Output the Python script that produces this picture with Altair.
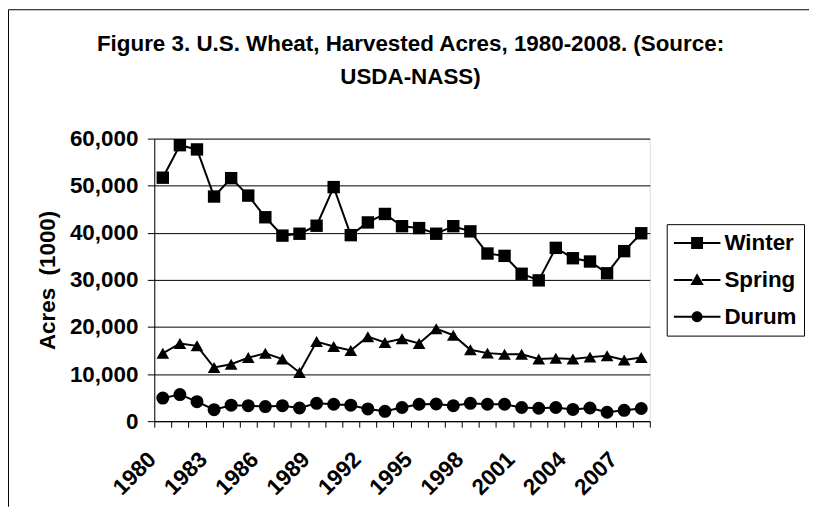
import altair as alt
import pandas as pd

# ---------------- data ----------------
years = list(range(1980, 2009))
winter = [51700, 58600, 57700, 47700, 51600, 47900, 43300, 39400, 39800, 41500,
          49700, 39500, 42200, 44000, 41400, 41000, 39800, 41400, 40300, 35600,
          35100, 31300, 29900, 36800, 34600, 33900, 31400, 36100, 39900]
spring = [14400, 16500, 16000, 11400, 12100, 13500, 14400, 13200, 10350, 16900,
          15850, 15000, 17950, 16700, 17500, 16500, 19650, 18250, 15150, 14450,
          14200, 14200, 13200, 13350, 13200, 13600, 13900, 13000, 13500]
durum = [4900, 5650, 4150, 2450, 3400, 3300, 3100, 3300, 2800, 3800,
         3600, 3400, 2600, 2100, 2900, 3600, 3650, 3300, 3800, 3600,
         3600, 2900, 2750, 2900, 2500, 2800, 1900, 2300, 2700]
series_names = ["Winter", "Spring", "Durum"]
title_lines = ["Figure 3. U.S. Wheat, Harvested Acres, 1980-2008. (Source:", "USDA-NASS)"]
y_title = "Acres\u00a0 (1000)"
y_ticks = [0, 10000, 20000, 30000, 40000, 50000, 60000]

rows = []
for name, vals in zip(series_names, [winter, spring, durum]):
    for yr, v in zip(years, vals):
        rows.append({"year": yr, "acres": v, "series": name})
df = pd.DataFrame(rows)

FONT = "Liberation Sans"
FS = 22.5
W, H = 498, 284
PL, PT, PR, PB = 147, 130, 160, 86

x_enc = alt.X(
    "year:O",
    scale=alt.Scale(type="band", paddingInner=0, paddingOuter=0),
    axis=alt.Axis(
        title=None, labelAngle=-45, labelAlign="right", labelBaseline="middle",
        labelFont=FONT, labelFontSize=FS, labelFontWeight="bold", labelColor="black",
        labelExpr="(datum.value - 1980) % 3 == 0 ? datum.label : ''",
        tickBand="extent", ticks=True, tickSize=6, tickColor="black", tickWidth=1,
        domainColor="black", domainWidth=1, grid=False,
        labelPadding=28.5, labelOffset=-11, labelOverlap=False, labelBound=False,
        labelFlush=False,
    ),
)
y_enc = alt.Y(
    "acres:Q",
    scale=alt.Scale(domain=[0, 60000], nice=False),
    axis=alt.Axis(
        title=y_title, values=y_ticks, format=",.0f",
        grid=True, gridColor="black", gridWidth=1,
        domainColor="black", domainWidth=1, tickColor="black", tickSize=7,
        labelPadding=9.5, labelFont=FONT, labelFontSize=FS, labelFontWeight="bold",
        labelColor="black", titleFont=FONT, titleFontSize=FS, titleFontWeight="bold",
        titleColor="black", titlePadding=10, labelOverlap=False,
    ),
)

# legend symbols: a short line (two thin filled bars) with the series marker between
def with_bars(gap, marker):
    return (f"M-1,-0.043H-{gap}V0.043H-1Z"
            f"M{gap},-0.043H1V0.043H{gap}Z" + marker)

sq = with_bars(0.25, "M-0.255,-0.255H0.255V0.255H-0.255Z")
tri = with_bars(0.2, "M0,-0.28L0.29,0.22L-0.29,0.22Z")
circ = with_bars(0.22, "M-0.234,0A0.234,0.234 0 1,1 0.234,0A0.234,0.234 0 1,1 -0.234,0Z")

legend = alt.Legend(
    orient="none", legendX=515, legendY=86, title=None,
    strokeColor="black", fillColor="white", padding=7, cornerRadius=0,
    symbolSize=2209, clipHeight=24, rowPadding=13, labelOffset=4,
    labelFont=FONT, labelFontSize=FS, labelFontWeight="bold", labelColor="black",
    labelLimit=300, symbolFillColor="black", symbolStrokeWidth=0, symbolOpacity=1,
)

lines = alt.Chart(df).mark_line(color="black", strokeWidth=2).encode(
    x=x_enc, y=y_enc, detail="series:N"
)
points = alt.Chart(df).mark_point(filled=True, color="black", opacity=1).encode(
    x=x_enc, y=y_enc,
    shape=alt.Shape("series:N", scale=alt.Scale(domain=series_names,
                    range=["square", "triangle-up", "circle"]), legend=None),
    size=alt.Size("series:N", scale=alt.Scale(domain=series_names,
                  range=[155, 170, 105]), legend=None),
)
# legend-only layer: zero-size marks, only its legend is visible
legend_layer = alt.Chart(alt.Data(values=[{"series": n} for n in series_names])).mark_point(
    filled=True, fill="black", size=0, opacity=1, clip=True
).encode(
    x=alt.value(0), y=alt.value(0),
    shape=alt.Shape("series:N", scale=alt.Scale(domain=series_names, range=[sq, tri, circ]),
                    legend=legend),
)
# outer chart frame: only its top and left edges fall inside the picture
frame_top = alt.Chart(alt.Data(values=[{}])).mark_rule(
    color="black", strokeWidth=1, clip=False
).encode(
    x=alt.value(-PL + 0.5), x2=alt.value(W + PR), y=alt.value(-PT + 0.5),
)
frame_left = alt.Chart(alt.Data(values=[{}])).mark_rule(
    color="black", strokeWidth=1, clip=False
).encode(
    x=alt.value(-PL + 0.5), y=alt.value(-PT + 0.5), y2=alt.value(H + PB),
)
title1 = alt.Chart(alt.Data(values=[{}])).mark_text(
    text=title_lines[0], font=FONT, fontSize=FS, fontWeight="bold", color="black",
    align="center", baseline="alphabetic", x=257.5, y=-88,
)
title2 = alt.Chart(alt.Data(values=[{}])).mark_text(
    text=title_lines[1], font=FONT, fontSize=FS, fontWeight="bold", color="black",
    align="center", baseline="alphabetic", x=257.5, y=-55,
)

chart = alt.layer(lines, points, legend_layer, frame_top, frame_left, title1, title2).resolve_scale(
    shape="independent"
).properties(
    width=W, height=H,
    autosize=alt.AutoSizeParams(type="none"),
    padding={"left": PL, "top": PT, "right": PR, "bottom": PB},
).configure_view(stroke="#808080", strokeWidth=1).configure(background="white")

chart.save("out.html", embed_options={"renderer": "svg", "actions": False})
